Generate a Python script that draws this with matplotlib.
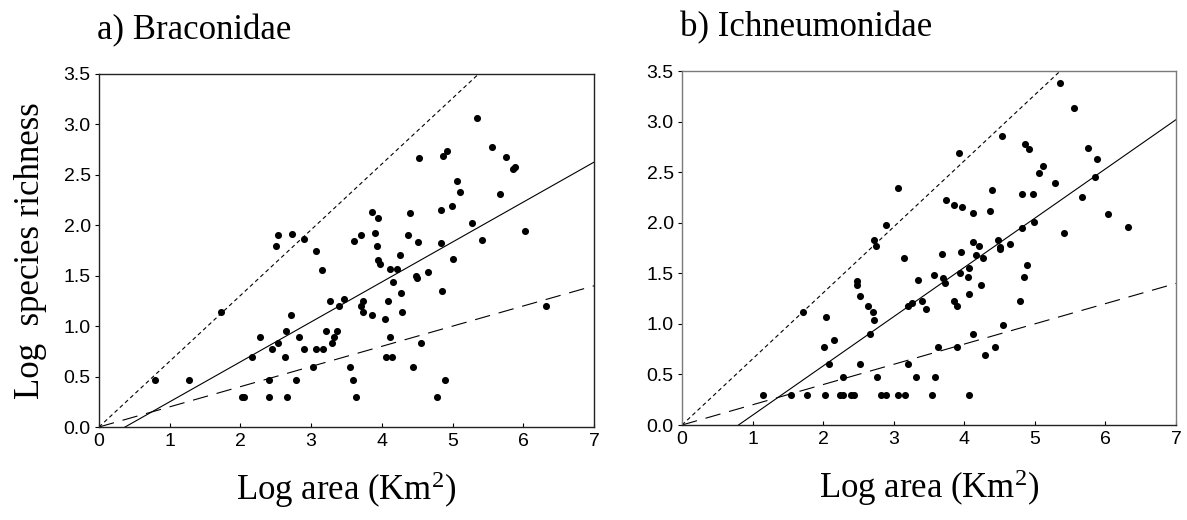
import matplotlib
matplotlib.use("Agg")
import matplotlib.pyplot as plt
import numpy as np

# ---------------- data ----------------
brac_x = [0.79, 1.27, 1.72, 2.02, 2.05, 2.17, 2.28, 2.41, 2.41, 2.44,
          2.50, 2.53, 2.53, 2.63, 2.64, 2.66, 2.72, 2.73, 2.78, 2.83,
          2.90, 2.90, 3.03, 3.07, 3.07, 3.15, 3.17, 3.21, 3.27, 3.30,
          3.33, 3.37, 3.39, 3.46, 3.55, 3.59, 3.63, 3.60, 3.70, 3.71,
          3.73, 3.74, 3.86, 3.86, 3.90, 3.93, 3.95, 3.95, 3.98, 4.05,
          4.06, 4.08, 4.12, 4.12, 4.14, 4.16, 4.21, 4.25, 4.27, 4.28,
          4.37, 4.40, 4.44, 4.48, 4.50, 4.51, 4.53, 4.56, 4.65, 4.78,
          4.83, 4.83, 4.85, 4.86, 4.90, 4.92, 4.99, 5.00, 5.06, 5.11,
          5.28, 5.35, 5.41, 5.56, 5.67, 5.76, 5.85, 5.88, 6.03, 6.32]
brac_y = [0.47, 0.47, 1.14, 0.30, 0.30, 0.69, 0.89, 0.47, 0.30, 0.77,
          1.79, 1.90, 0.83, 0.69, 0.95, 0.30, 1.11, 1.91, 0.47, 0.89,
          1.86, 0.77, 0.59, 1.75, 0.77, 1.56, 0.77, 0.95, 1.25, 0.83,
          0.89, 0.95, 1.20, 1.27, 0.59, 0.47, 0.30, 1.84, 1.20, 1.90,
          1.25, 1.14, 2.13, 1.11, 1.92, 1.79, 2.07, 1.66, 1.62, 1.07,
          0.69, 1.25, 1.57, 0.89, 0.69, 1.44, 1.57, 1.71, 1.33, 1.14,
          1.90, 2.12, 0.59, 1.50, 1.48, 1.83, 2.67, 0.83, 1.54, 0.30,
          2.15, 1.82, 1.35, 2.69, 0.47, 2.74, 2.19, 1.67, 2.44, 2.33,
          2.02, 3.06, 1.85, 2.78, 2.31, 2.68, 2.56, 2.58, 1.94, 1.20]

ichn_x = [1.15, 1.54, 1.71, 1.77, 2.01, 2.02, 2.04, 2.08, 2.16, 2.24,
          2.28, 2.28, 2.39, 2.44, 2.48, 2.48, 2.52, 2.52, 2.64, 2.66,
          2.71, 2.72, 2.72, 2.75, 2.77, 2.82, 2.89, 2.89, 3.06, 3.06,
          3.14, 3.16, 3.20, 3.20, 3.26, 3.32, 3.35, 3.40, 3.46, 3.54,
          3.57, 3.59, 3.63, 3.69, 3.70, 3.73, 3.74, 3.85, 3.85, 3.89,
          3.90, 3.92, 3.94, 3.95, 3.97, 4.05, 4.07, 4.07, 4.07, 4.12,
          4.12, 4.13, 4.16, 4.21, 4.24, 4.27, 4.29, 4.37, 4.39, 4.44,
          4.48, 4.50, 4.50, 4.53, 4.55, 4.65, 4.79, 4.82, 4.82, 4.85,
          4.86, 4.89, 4.92, 4.98, 4.99, 5.06, 5.11, 5.28, 5.35, 5.41,
          5.56, 5.67, 5.76, 5.85, 5.88, 6.03, 6.32]
ichn_y = [0.30, 0.30, 1.12, 0.30, 0.77, 0.30, 1.07, 0.60, 0.84, 0.30,
          0.30, 0.47, 0.30, 0.30, 1.42, 1.38, 1.28, 0.60, 1.18, 0.90,
          1.12, 1.04, 1.83, 1.77, 0.47, 0.30, 0.30, 1.98, 2.34, 0.30,
          1.65, 0.30, 1.18, 0.60, 1.21, 0.47, 1.43, 1.23, 1.15, 0.30,
          1.48, 0.47, 0.77, 1.69, 1.45, 1.40, 2.22, 2.18, 1.23, 0.77,
          1.18, 2.69, 1.50, 1.71, 2.16, 1.46, 1.55, 1.30, 0.30, 2.10,
          1.81, 0.90, 1.68, 1.77, 1.38, 1.65, 0.69, 2.12, 2.32, 0.77,
          1.83, 1.76, 1.74, 2.86, 0.99, 1.79, 1.23, 2.28, 1.95, 1.46,
          2.78, 1.58, 2.73, 2.28, 2.01, 2.49, 2.56, 2.39, 3.38, 1.90,
          3.13, 2.25, 2.74, 2.45, 2.63, 2.09, 1.96]

# regression / reference lines: (slope, intercept)
brac_upper = (0.652, 0.0)
brac_fit = (0.396, -0.146)
brac_lower = (0.200, 0.0)
ichn_upper = (0.653, 0.0)
ichn_fit = (0.487, -0.390)
ichn_lower = (0.200, 0.0)

x_ticks = [0, 1, 2, 3, 4, 5, 6, 7]
y_ticks = [0.0, 0.5, 1.0, 1.5, 2.0, 2.5, 3.0, 3.5]
titles = ["a) Braconidae", "b) Ichneumonidae"]
xlabel = "Log area (Km$^{2}$)"
ylabel = "Log  species richness"

# ---------------- figure ----------------
plt.rcParams["mathtext.fontset"] = "custom"
plt.rcParams["mathtext.rm"] = "Liberation Serif"
plt.rcParams["mathtext.it"] = "Liberation Serif"
plt.rcParams["mathtext.default"] = "regular"

W, H = 1187, 520
fig = plt.figure(figsize=(W / 100, H / 100), dpi=100)

serif = "Liberation Serif"
sans = "Liberation Sans"


def box(l, r, t, b):
    return [l / W, 1 - b / H, (r - l) / W, (b - t) / H]


ax1 = fig.add_axes(box(99, 594, 74, 427))
ax2 = fig.add_axes(box(682, 1176, 71, 425))

panels = [
    (ax1, brac_x, brac_y, brac_upper, brac_fit, brac_lower, titles[0]),
    (ax2, ichn_x, ichn_y, ichn_upper, ichn_fit, ichn_lower, titles[1]),
]

xx = np.linspace(0, 7, 200)
for ax, xs, ys, up, fit, low, title in panels:
    ax.scatter(xs, ys, s=26, color="black", zorder=3, linewidths=0)
    # upper short-dashed line
    ln, = ax.plot(xx, up[0] * xx + up[1], color="black", lw=0.8)
    ln.set_dashes((3.6, 2.8))
    # solid fit
    ax.plot(xx, fit[0] * xx + fit[1], color="black", lw=0.8)
    # long dashed
    ln2, = ax.plot(xx, low[0] * xx + low[1], color="black", lw=0.8)
    ln2.set_dashes((14, 8))

    ax.set_xlim(0, 7)
    ax.set_ylim(0, 3.5)
    ax.set_xticks(x_ticks)
    ax.set_xticklabels([str(t) for t in x_ticks], fontfamily=sans, fontsize=14)
    ax.set_yticks(y_ticks)
    ax.set_yticklabels([f"{t:.1f}" for t in y_ticks], fontfamily=sans, fontsize=14)
    ax.tick_params(axis="x", direction="in", length=3, width=0.8, pad=4)
    ax.tick_params(axis="y", direction="out", length=3, width=0.8, pad=3)
    for s in ax.spines.values():
        s.set_linewidth(1.0)
        s.set_color("#222222")
    ax.set_title(title, loc="left", fontfamily=serif, fontsize=25, pad=25, x=-0.005)
    ax.set_xlabel(xlabel, fontfamily=serif, fontsize=25, labelpad=14)

for name in ["top", "left", "right"]:
    ax2.spines[name].set_color("#7a7a7a")

ax1.set_ylabel(ylabel, fontfamily=serif, fontsize=25, labelpad=12)

fig.savefig("out.png", dpi=100)
